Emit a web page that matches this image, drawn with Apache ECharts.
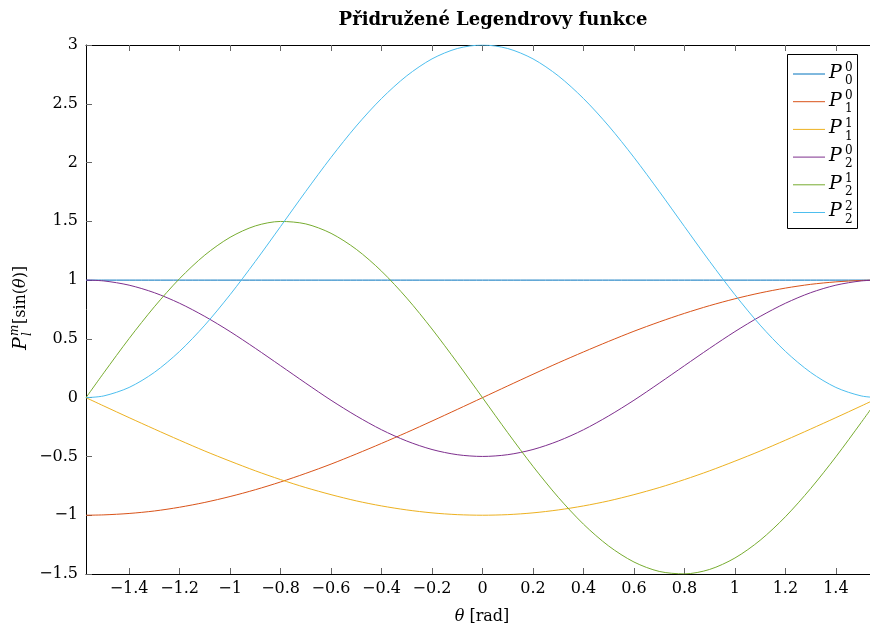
<!DOCTYPE html>
<html><head><meta charset="utf-8">
<script src="https://cdn.jsdelivr.net/npm/echarts@6/dist/echarts.min.js"></script>
<style>html,body{margin:0;padding:0;overflow:hidden;background:#fff}#c{width:880px;height:634px}</style>
</head><body><div id="c"></div>
<script>
const thetas = [-1.5708,-1.5,-1.4,-1.3,-1.2,-1.1,-1.0,-0.9,-0.8,-0.7,-0.6,-0.5,-0.4,-0.3,-0.2,-0.1,0,0.1,0.2,0.3,0.4,0.5,0.6,0.7,0.8,0.9,1.0,1.1,1.2,1.3,1.4,1.5,1.5708];
const p00 = [1,1,1,1,1,1,1,1,1,1,1,1,1,1,1,1,1,1,1,1,1,1,1,1,1,1,1,1,1,1,1,1,1];
const p10 = [-1,-0.997,-0.985,-0.964,-0.932,-0.891,-0.841,-0.783,-0.717,-0.644,-0.565,-0.479,-0.389,-0.296,-0.199,-0.100,0,0.100,0.199,0.296,0.389,0.479,0.565,0.644,0.717,0.783,0.841,0.891,0.932,0.964,0.985,0.997,1];
const p11 = [0,-0.071,-0.170,-0.267,-0.362,-0.454,-0.540,-0.622,-0.697,-0.765,-0.825,-0.878,-0.921,-0.955,-0.980,-0.995,-1,-0.995,-0.980,-0.955,-0.921,-0.878,-0.825,-0.765,-0.697,-0.622,-0.540,-0.454,-0.362,-0.267,-0.170,-0.071,0];
const p20 = [1,0.993,0.957,0.893,0.803,0.691,0.562,0.420,0.272,0.123,-0.022,-0.155,-0.273,-0.369,-0.441,-0.485,-0.5,-0.485,-0.441,-0.369,-0.273,-0.155,-0.022,0.123,0.272,0.420,0.562,0.691,0.803,0.893,0.957,0.993,1];
const p21 = [0,0.212,0.503,0.773,1.013,1.213,1.364,1.461,1.499,1.478,1.398,1.262,1.076,0.847,0.584,0.298,0,-0.298,-0.584,-0.847,-1.076,-1.262,-1.398,-1.478,-1.499,-1.461,-1.364,-1.213,-1.013,-0.773,-0.503,-0.212,0];
const p22 = [0,0.015,0.087,0.215,0.394,0.617,0.876,1.159,1.456,1.755,2.044,2.311,2.545,2.738,2.882,2.970,3,2.970,2.882,2.738,2.545,2.311,2.044,1.755,1.456,1.159,0.876,0.617,0.394,0.215,0.087,0.015,0];
const xTicks = [-1.4,-1.2,-1,-0.8,-0.6,-0.4,-0.2,0,0.2,0.4,0.6,0.8,1,1.2,1.4];
const legendSup = ['0','0','1','0','1','2'];
const legendSub = ['0','1','1','2','2','2'];
const colors = ['#0072BD','#D95319','#EDB120','#7E2F8E','#77AC30','#4DBEEE'];
const seriesValues = [p00,p10,p11,p20,p21,p22];
const titleText = 'Přidružené Legendrovy funkce';

const FONT = '"DejaVu Serif", "Liberation Serif", serif';
const fmt = v => String(v).replace('-', '\u2212');

const series = seriesValues.map((vals, i) => ({
  type: 'line',
  name: 'P' + legendSub[i] + legendSup[i],
  data: thetas.map((t, k) => [t, vals[k]]),
  smooth: 0.3,
  showSymbol: false,
  lineStyle: { color: colors[i], width: 1 },
  itemStyle: { color: colors[i] },
  z: 2 + i
}));

// legend graphic
const legendChildren = [{
  type: 'rect', shape: { x: 787.5, y: 54.5, width: 70, height: 174 },
  style: { fill: '#fff', stroke: '#000', lineWidth: 1 }, z: 10
}];
colors.forEach((c, i) => {
  const y = 74 + i * 27.7;
  legendChildren.push({ type: 'line', shape: { x1: 793, y1: y, x2: 825, y2: y }, style: { stroke: c, lineWidth: 1 }, z: 11 });
  legendChildren.push({ type: 'text', x: 829, y: y - 1, style: { text: 'P', fontFamily: FONT, fontStyle: 'italic', fontSize: 19, fill: '#000', verticalAlign: 'middle' }, z: 11 });
  legendChildren.push({ type: 'text', x: 845, y: y - 6, style: { text: legendSup[i], fontFamily: FONT, fontSize: 12, fill: '#000', verticalAlign: 'middle' }, z: 11 });
  legendChildren.push({ type: 'text', x: 845, y: y + 7, style: { text: legendSub[i], fontFamily: FONT, fontSize: 12, fill: '#000', verticalAlign: 'middle' }, z: 11 });
});

const yName = {
  type: 'group', x: 21, y: 350, rotation: Math.PI / 2, z: 10,
  children: [
    { type: 'text', x: 0, y: 0, style: { text: 'P', fontFamily: FONT, fontStyle: 'italic', fontSize: 19, fill: '#000', verticalAlign: 'middle' } },
    { type: 'text', x: 14, y: -6, style: { text: 'm', fontFamily: FONT, fontStyle: 'italic', fontSize: 12, fill: '#000', verticalAlign: 'middle' } },
    { type: 'text', x: 14, y: 7, style: { text: 'l', fontFamily: FONT, fontStyle: 'italic', fontSize: 12, fill: '#000', verticalAlign: 'middle' } },
    { type: 'text', x: 26, y: 0, style: { text: '{a|[sin(}{b|θ}{a|)]}', fill: '#000', verticalAlign: 'middle',
      rich: { a: { fontFamily: FONT, fontSize: 16 }, b: { fontFamily: FONT, fontSize: 16, fontStyle: 'italic' } } } }
  ]
};

const xName = {
  type: 'text', x: 482, y: 617, z: 10,
  style: { text: '{b|θ}{a| [rad]}', fill: '#000', align: 'center', verticalAlign: 'middle',
    rich: { a: { fontFamily: FONT, fontSize: 16 }, b: { fontFamily: FONT, fontSize: 16, fontStyle: 'italic' } } }
};

const chart = echarts.init(document.getElementById('c'), null, { renderer: 'canvas' });
chart.setOption({
  animation: false,
  backgroundColor: '#fff',
  title: { text: titleText, left: 488, top: 6, textAlign: 'center',
    textStyle: { fontFamily: FONT, fontWeight: 'bold', fontSize: 18, color: '#000' } },
  grid: { left: 86, right: 1, top: 45, bottom: 60, containLabel: false },
  xAxis: [{
    type: 'value', min: -1.5708, max: 1.5708, position: 'bottom',
    axisLine: { show: true, onZero: false, lineStyle: { color: '#000', width: 1 } },
    axisTick: { show: true, inside: true, length: 6, customValues: xTicks, lineStyle: { color: '#666' } },
    axisLabel: { show: true, customValues: xTicks, formatter: fmt, fontFamily: FONT, fontSize: 16, color: '#000', margin: 7 },
    splitLine: { show: false }
  }, {
    type: 'value', min: -1.5708, max: 1.5708, position: 'top',
    axisLine: { show: true, onZero: false, lineStyle: { color: '#000', width: 1 } },
    axisTick: { show: true, inside: true, length: 6, customValues: xTicks, lineStyle: { color: '#666' } },
    axisLabel: { show: false },
    splitLine: { show: false }
  }],
  yAxis: [{
    type: 'value', min: -1.5, max: 3, interval: 0.5, position: 'left',
    axisLine: { show: true, onZero: false, lineStyle: { color: '#000', width: 1 } },
    axisTick: { show: true, inside: true, length: 6, lineStyle: { color: '#666' } },
    axisLabel: { formatter: fmt, fontFamily: FONT, fontSize: 16, color: '#000', margin: 8 },
    splitLine: { show: false }
  }],
  series: series,
  graphic: [{ type: 'group', children: legendChildren }, yName, xName]
});
</script></body></html>
